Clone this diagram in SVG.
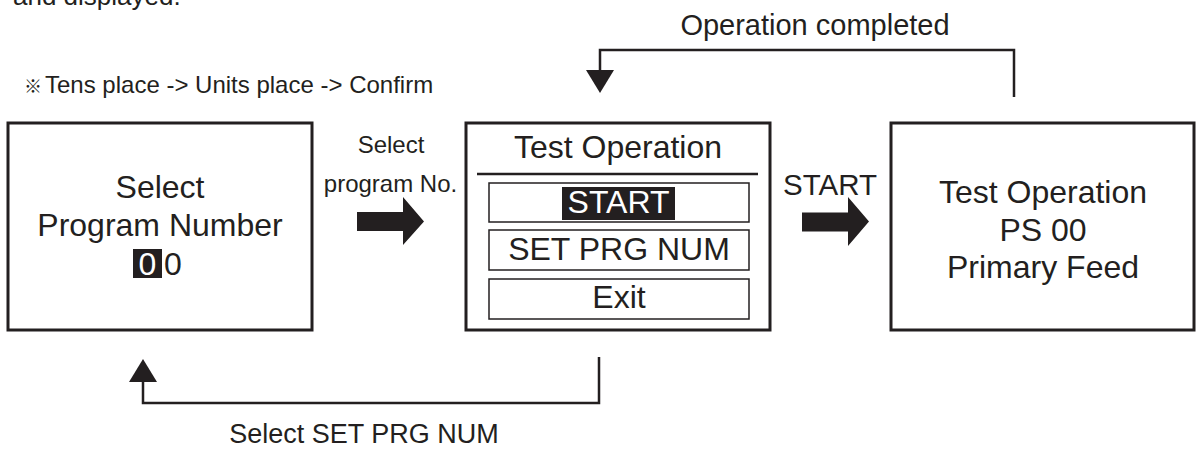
<svg xmlns="http://www.w3.org/2000/svg" width="1201" height="449" viewBox="0 0 1201 449">
<defs>
<style>
text{font-family:"Liberation Sans","Noto Sans CJK JP",sans-serif;fill:#231f20}
.c{text-anchor:middle}
.box{fill:#fff;stroke:#231f20;stroke-width:3}
.inner{fill:none;stroke:#231f20;stroke-width:1.5}
.line{fill:none;stroke:#231f20;stroke-width:2.5}
.fillk{fill:#231f20}
</style>
<marker id="tri" viewBox="0 0 23 28" refX="0" refY="14" markerWidth="23" markerHeight="28" orient="auto" markerUnits="userSpaceOnUse">
<path d="M0,0 L23,14 L0,28 z" fill="#231f20"/>
</marker>
</defs>
<rect width="1201" height="449" fill="#fff"/>
<text x="13" y="5" font-size="26">and displayed.</text>
<text x="24" y="93" font-size="24"><tspan font-size="18">※</tspan><tspan x="45">Tens place -&gt; Units place -&gt; Confirm</tspan></text>

<g id="node-select-program-number">
<rect class="box" x="8" y="123" width="304" height="207"/>
<text class="c" x="160" y="198" font-size="32">Select</text>
<text class="c" x="160" y="236" font-size="32">Program Number</text>
<rect class="fillk" x="133" y="249" width="29" height="29"/>
<text x="138.5" y="275" font-size="32" style="fill:#fff">0</text>
<text x="164" y="275" font-size="32">0</text>
</g>

<g id="node-test-operation-menu">
<rect class="box" x="466" y="123" width="304" height="207"/>
<text class="c" x="618" y="158" font-size="32">Test Operation</text>
<line class="line" x1="477" y1="174" x2="758" y2="174"/>
<rect class="inner" x="489" y="183" width="260" height="39"/>
<rect class="fillk" x="562" y="187" width="113" height="33"/>
<text class="c" x="618.5" y="213" font-size="32" style="fill:#fff">START</text>
<rect class="inner" x="489" y="230" width="260" height="40"/>
<text class="c" x="619" y="260" font-size="32">SET PRG NUM</text>
<rect class="inner" x="489" y="279" width="260" height="40"/>
<text class="c" x="619" y="308" font-size="32">Exit</text>
</g>

<g id="node-test-operation-run">
<rect class="box" x="891" y="123" width="303" height="207"/>
<text class="c" x="1043" y="203" font-size="32">Test Operation</text>
<text class="c" x="1043" y="241" font-size="32">PS 00</text>
<text class="c" x="1043" y="278" font-size="32">Primary Feed</text>
</g>

<g id="connectors">
<text class="c" x="391" y="153" font-size="24">Select</text>
<text class="c" x="390.5" y="192" font-size="24">program No.</text>
<polygon class="fillk" points="357,212 403,212 403,197 424,221.5 403,245 403,231 357,231"/>
<text class="c" x="830" y="195" font-size="29.5">START</text>
<polygon class="fillk" points="802,212.5 848,212.5 848,197 869,221.5 848,246 848,231.5 802,231.5"/>
<path class="line" d="M1014,97 V50 H600 V70" marker-end="url(#tri)"/>
<text class="c" x="815" y="35" font-size="29">Operation completed</text>
<path class="line" d="M599,357 V403 H143 V382" marker-end="url(#tri)"/>
<text class="c" x="364" y="443" font-size="27">Select SET PRG NUM</text>
</g>
</svg>
